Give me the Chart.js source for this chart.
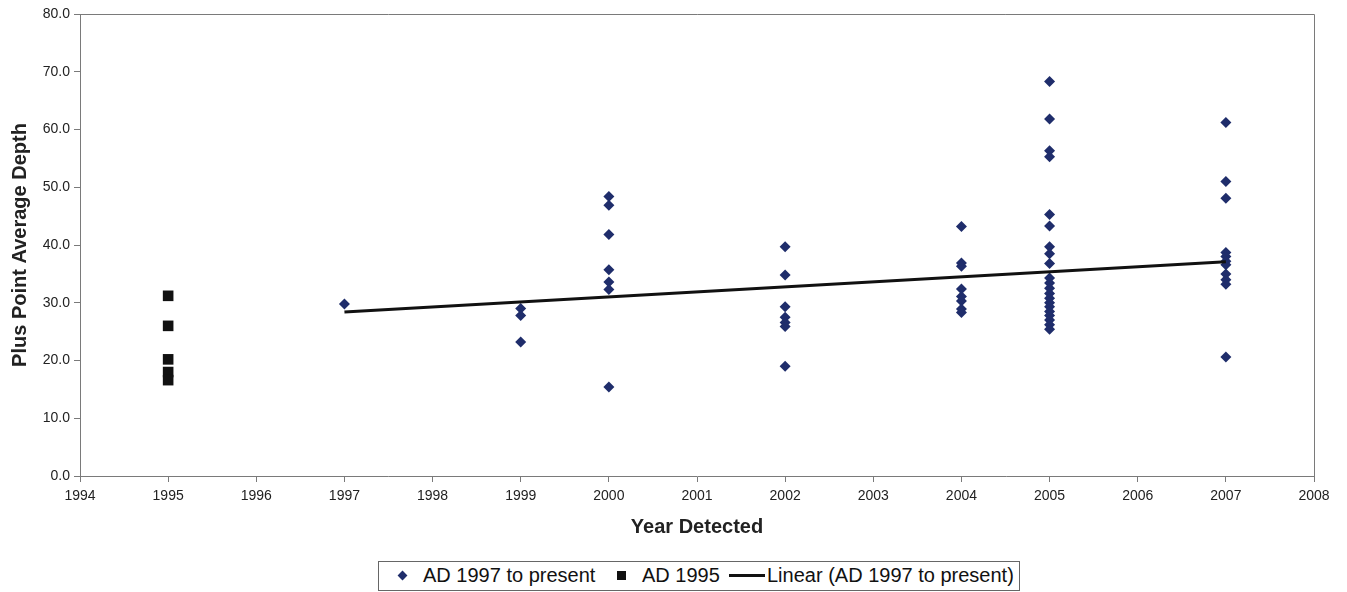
<!DOCTYPE html>
<html>
<head>
<meta charset="utf-8">
<script src="https://cdn.jsdelivr.net/npm/chart.js@4.4.1/dist/chart.umd.min.js"></script>
<style>
    html, body { margin: 0; padding: 0; background: #fff; }
    .quadro { position: relative; width: 1347px; height: 592px; }
    .legenda {
        position: absolute; left: 378px; top: 561px; width: 640px; height: 28px;
        border: 1px solid #666; background: #fff;
        font-family: "Liberation Sans", Arial, sans-serif; font-size: 20px; color: #111;
    }
    .legenda span { position: absolute; top: 2px; white-space: nowrap; line-height: 23px; }
    .marca { position: absolute; }
</style>
</head>
<body>
<div class="quadro">
    <canvas id="grafico" width="1347" height="592"></canvas>
    <div class="legenda">
        <div class="marca" style="left:20px;top:10px;width:7px;height:7px;background:#1f2d6b;transform:rotate(45deg);"></div>
        <span style="left:44px;">AD 1997 to present</span>
        <div class="marca" style="left:238px;top:9px;width:9px;height:9px;background:#111;"></div>
        <span style="left:263px;">AD 1995</span>
        <div class="marca" style="left:350px;top:12px;width:36px;height:3px;background:#111;"></div>
        <span style="left:388px;">Linear (AD 1997 to present)</span>
    </div>
</div>
<script>
// valores
const anos1995 = [1995, 1995, 1995, 1995, 1995];
const prof1995 = [31.2, 26.0, 20.2, 18.0, 16.6];

const prof1997 = [29.8];
const prof1999 = [29.0, 27.8, 23.2];
const prof2000 = [48.4, 46.9, 41.8, 35.7, 33.6, 32.3, 15.4];
const prof2002 = [39.7, 34.8, 29.3, 27.5, 26.6, 25.9, 19.0];
const prof2004 = [43.2, 36.9, 36.3, 32.4, 31.1, 30.3, 28.9, 28.3];
const prof2005 = [68.3, 61.8, 56.3, 55.3, 45.3, 43.3, 39.7, 38.5, 36.8, 34.3, 33.4, 32.5,
    31.6, 30.8, 30.0, 29.3, 28.5, 27.8, 27.0, 26.2, 25.4];
const prof2007 = [61.2, 51.0, 48.1, 38.7, 38.0, 37.2, 36.6, 35.0, 34.0, 33.2, 20.6];

const tendenciaAnos = [1997, 2007];
const tendenciaValores = [28.4, 37.1];

const eixoX = { min: 1994, max: 2008, passo: 1 };
const eixoY = { min: 0, max: 80, passo: 10 };

function montarPontos(ano, valores) {
    return valores.map(v => ({ x: ano, y: v }));
}

const pontosPresente = [
    ...montarPontos(1997, prof1997),
    ...montarPontos(1999, prof1999),
    ...montarPontos(2000, prof2000),
    ...montarPontos(2002, prof2002),
    ...montarPontos(2004, prof2004),
    ...montarPontos(2005, prof2005),
    ...montarPontos(2007, prof2007)
];
const pontos1995 = prof1995.map((v, i) => ({ x: anos1995[i], y: v }));
const pontosTendencia = tendenciaAnos.map((a, i) => ({ x: a, y: tendenciaValores[i] }));

const fonte = '"Liberation Sans", Arial, sans-serif';
const corEixo = '#7a7a7a';

const moldura = {
    id: 'moldura',
    afterDraw(chart) {
        const { ctx, chartArea } = chart;
        ctx.save();
        ctx.strokeStyle = corEixo;
        ctx.lineWidth = 1;
        ctx.beginPath();
        ctx.moveTo(chartArea.left, chartArea.top + 0.5);
        ctx.lineTo(chartArea.right + 0.5, chartArea.top + 0.5);
        ctx.lineTo(chartArea.right + 0.5, chartArea.bottom);
        ctx.stroke();
        ctx.restore();
    }
};

new Chart(document.getElementById('grafico'), {
    type: 'scatter',
    data: {
        datasets: [
            {
                type: 'line',
                label: 'Linear (AD 1997 to present)',
                data: pontosTendencia,
                borderColor: '#111',
                borderWidth: 3,
                pointRadius: 0,
                fill: false,
                order: 0
            },
            {
                label: 'AD 1997 to present',
                data: pontosPresente,
                pointStyle: 'rectRot',
                pointRadius: 5.5,
                backgroundColor: '#1f2d6b',
                borderColor: '#1f2d6b',
                borderWidth: 0,
                order: 1
            },
            {
                label: 'AD 1995',
                data: pontos1995,
                pointStyle: 'rect',
                pointRadius: 7.5,
                backgroundColor: '#111',
                borderColor: '#111',
                borderWidth: 0,
                order: 1
            }
        ]
    },
    options: {
        responsive: false,
        animation: false,
        layout: { padding: { left: 6, right: 33, top: 14, bottom: 49 } },
        plugins: {
            legend: { display: false },
            tooltip: { enabled: false }
        },
        scales: {
            x: {
                type: 'linear',
                min: eixoX.min,
                max: eixoX.max,
                afterFit: escala => { escala.height = 67; },
                border: { color: corEixo },
                grid: { drawOnChartArea: false, drawTicks: true, tickLength: 6, tickColor: corEixo },
                ticks: {
                    stepSize: eixoX.passo,
                    padding: 6,
                    maxRotation: 0,
                    color: '#222',
                    font: { family: fonte, size: 14 },
                    callback: valor => String(valor)
                },
                title: {
                    display: true,
                    text: 'Year Detected',
                    color: '#222',
                    font: { family: fonte, size: 20, weight: 'bold' },
                    padding: { top: 4, bottom: 4 }
                }
            },
            y: {
                min: eixoY.min,
                max: eixoY.max,
                afterFit: escala => { escala.width = 74; },
                border: { color: corEixo },
                grid: { drawOnChartArea: false, drawTicks: true, tickLength: 6, tickColor: corEixo },
                ticks: {
                    stepSize: eixoY.passo,
                    padding: 4,
                    color: '#222',
                    font: { family: fonte, size: 14 },
                    callback: valor => Number(valor).toFixed(1)
                },
                title: {
                    display: true,
                    text: 'Plus Point Average Depth',
                    color: '#222',
                    font: { family: fonte, size: 20, weight: 'bold' },
                    padding: { top: 2, bottom: 2 }
                }
            }
        }
    },
    plugins: [moldura]
});
</script>
</body>
</html>
